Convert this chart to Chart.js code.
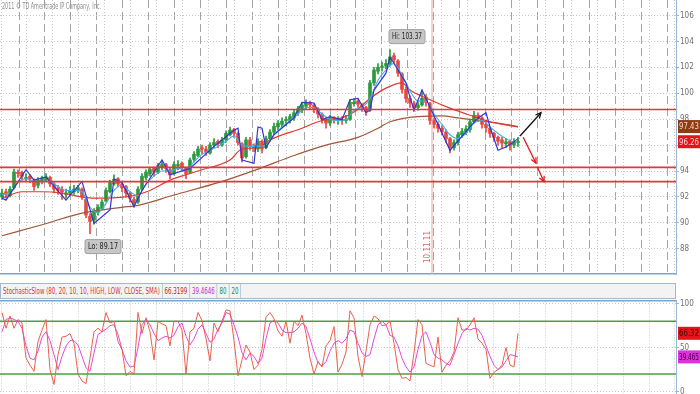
<!DOCTYPE html>
<html>
<head>
<meta charset="utf-8">
<title>Price with StochasticSlow</title>
<script src="https://cdn.jsdelivr.net/npm/chart.js@4.4.1/dist/chart.umd.min.js"></script>
<style>
  html, body { margin: 0; padding: 0; background: #fff; }
  #page { position: relative; width: 700px; height: 394px; overflow: hidden;
          font-family: "Liberation Sans Narrow", "DejaVu Sans Condensed", "Liberation Sans", sans-serif; }
  #priceBox { position: absolute; left: 0; top: 0; width: 700px; height: 277px; }
  #stochBox { position: absolute; left: 0; top: 299px; width: 700px; height: 95px; }
  #copyright { position: absolute; left: 2px; top: 2px; font-size: 8px; color: #8c8c8c; white-space: nowrap;
               transform: scaleX(0.68); transform-origin: left top; }
  #stochLegend { position: absolute; left: 0; top: 283px; width: 676px; height: 16px; box-sizing: border-box;
                 background: #f3f3f3; border: 1px solid #a3b8cc; overflow: hidden; }
  #legendRow { display: flex; font-size: 9px; line-height: 14px; white-space: nowrap;
               transform: scaleX(0.68); transform-origin: left top; }
  #legendRow span { padding: 0 3px; border-right: 1px solid #a3b8cc; }
</style>
</head>
<body>
<div id="page">
  <div id="priceBox"><canvas id="priceChart"></canvas></div>
  <div id="copyright">2011 © TD Ameritrade IP Company, Inc.</div>
  <div id="stochLegend"><div id="legendRow"></div></div>
  <div id="stochBox"><canvas id="stochChart"></canvas></div>
</div>
<script>
// daily bars, oldest first
var opens = [92.0,92.4,92.1,92.7,93.9,93.9,93.4,93.6,93.3,92.9, 93.2,93.3,93.5,93.0,92.7,92.6,92.2,92.3,92.4,92.5,
             92.6,91.8,90.5,90.2,90.8,91.1,91.7,92.4,93.0,93.4, 93.0,92.8,92.3,91.8,91.6,92.6,93.5,93.8,94.2,93.9,
             94.3,94.5,94.1,93.8,94.4,94.6,94.2,93.9,94.9,95.2, 95.8,95.7,95.4,96.0,96.3,96.0,96.4,96.8,97.2,96.9,
             96.1,95.1,96.4,95.9,95.7,96.3,95.8,96.5,97.0,97.4, 97.6,97.9,97.9,98.1,98.5,98.7,99.0,99.3,99.1,98.8,
             98.4,98.0,97.7,98.1,97.9,98.0,97.9,98.0,99.2,99.4, 99.1,98.9,98.7,100.8,101.7,102.0,102.1,102.3,102.9,102.5,
             101.5,100.3,99.6,99.2,98.9,99.1,99.7,99.2,97.9,97.6, 97.3,97.0,96.5,95.8,96.2,96.8,97.0,97.2,97.8,98.3,
             98.1,97.6,97.3,96.9,96.6,96.4,96.1,96.3,96.0,96.2];
var highs = [92.6,92.6,92.8,94.15,94.1,94.0,93.8,93.7,93.4,93.5, 93.6,93.8,93.6,93.1,92.9,92.8,92.6,92.8,92.9,92.9,
             92.7,91.9,90.7,91.1,91.4,91.8,92.7,93.3,93.7,93.5, 93.1,92.9,92.4,92.0,92.8,93.8,94.1,94.3,94.3,94.6,
             94.8,94.6,94.2,94.7,94.8,94.7,94.3,95.0,95.5,95.9, 96.0,95.9,96.2,96.5,96.4,96.6,97.1,97.4,97.3,97.0,
             96.2,96.6,96.6,96.1,96.5,96.4,96.7,97.2,97.7,97.9, 98.1,98.2,98.4,98.7,99.0,99.3,99.5,99.4,99.2,98.9,
             98.5,98.1,98.3,98.2,98.2,98.2,98.3,99.5,99.6,99.5, 99.2,99.0,101.0,102.0,102.3,102.4,102.6,103.37,103.1,102.6,
             101.6,100.5,99.8,99.4,99.4,100.25,99.9,99.3,98.1,97.8, 97.5,97.2,96.6,96.4,97.0,97.3,97.5,98.0,98.6,98.5,
             98.2,97.8,97.4,97.0,96.7,96.6,96.5,96.4,96.5,96.6];
var lows = [91.8,91.9,92.0,92.6,93.5,93.3,93.2,93.1,92.5,92.7, 93.0,93.2,92.8,92.3,92.2,91.8,91.9,92.1,92.2,92.3,
            91.8,90.4,89.17,89.9,90.6,91.0,91.6,92.3,92.9,92.8, 92.4,92.0,91.6,91.2,91.5,92.5,93.3,93.6,93.6,93.8,
            94.1,93.9,93.4,93.7,94.1,94.0,93.4,93.8,94.7,95.1, 95.3,95.2,95.3,95.8,95.8,95.9,96.2,96.7,96.6,96.0,
            94.7,95.0,95.6,95.5,95.5,95.4,95.7,96.3,96.8,97.2, 97.4,97.5,97.7,97.9,98.3,98.5,98.8,98.8,98.5,98.1,
            97.7,97.3,97.5,97.7,97.6,97.6,97.7,97.9,99.0,98.9, 98.6,98.3,98.6,100.6,101.5,101.7,101.9,102.1,102.3,101.3,
            100.0,99.3,98.9,98.6,98.7,99.0,99.0,97.6,97.3,97.0, 96.8,96.2,95.4,95.6,96.0,96.6,96.8,97.0,97.7,97.8,
            97.3,97.0,96.6,96.3,96.0,95.8,95.8,95.6,95.8,95.9];
var closes = [92.3,92.2,92.6,93.9,93.8,93.6,93.5,93.4,92.8,93.3, 93.45,93.55,93.0,92.6,92.5,92.4,92.3,92.5,92.6,92.7,
              92.0,90.6,90.1,90.9,91.2,91.6,92.5,93.1,93.35,93.0, 92.7,92.3,91.9,91.5,92.6,93.6,93.9,94.1,93.9,94.4,
              94.5,94.2,93.7,94.5,94.5,94.3,93.8,94.85,95.3,95.7, 95.7,95.5,96.0,96.2,96.1,96.4,96.9,97.15,96.9,96.2,
              95.0,96.4,95.9,95.8,96.3,95.7,96.5,97.0,97.45,97.7, 97.85,97.95,98.2,98.5,98.8,99.1,99.25,99.1,98.75,98.4,
              98.0,97.7,98.1,97.95,97.95,97.9,98.0,99.3,99.3,99.15, 98.9,98.6,100.8,101.8,102.0,102.1,102.3,102.8,102.6,101.55,
              100.3,99.6,99.25,98.9,99.1,99.6,99.3,97.9,97.6,97.3, 97.05,96.5,95.8,96.2,96.8,97.05,97.25,97.8,98.3,98.1,
              97.6,97.35,96.9,96.6,96.3,96.15,96.25,96.0,96.25,96.26];

// short EMA (light blue), one value every second bar
var cyanVals = [92.2,92.3,93.1,93.4,93.2,93.2,93.2,92.8,92.5,92.5, 92.4,91.2,90.8,91.5,92.5,92.9,92.4,92.1,93.0,93.6,
                94.0,94.0,94.2,94.1,94.7,95.3,95.6,95.9,96.3,96.7, 96.0,95.9,95.9,96.0,96.8,97.4,97.9,98.4,98.9,98.9,
                98.4,98.0,97.9,97.95,98.7,98.9,99.6,101.0,101.8,102.3, 101.4,100.2,99.4,99.4,98.4,97.6,96.8,96.5,96.9,97.7,
                97.9,97.4,96.9,96.5,96.2];
// trailing stop (dark blue)
var blueBars = [0,1,3,6,8,11,16,20,23,27,28,30,33,35,40,42,47,53,56,58,59,60,63,64,65,66,68,73,75,78,
                80,82,85,87,89,91,92,93,96,97,99,101,102,103,105,112,117,119,121,122,124,126,128,129];
var blueVals = [91.9,91.75,92.7,94.1,93.3,93.55,91.75,93.2,89.96,91.0,93.4,93.1,91.25,92.5,94.85,93.7,94.2,95.9,96.65,97.15,
                97.3,94.85,94.6,97.4,97.3,95.8,96.8,98.1,99.3,99.25, 97.95,98.2,97.95,99.5,99.6,98.5,98.7,100.25,101.55,102.8,
                101.8,100.8,99.7,98.7,100.25,95.6,97.4,98.1,98.5,97.4,95.6,95.85,96.25,96.5];
// 50 day average (red)
var redBars = [0,5,10,15,20,23,31,37,42,50,57,60,64,67,75,80,85,88,92,96,100,102,107,112,117,122,129];
var redVals = [91.9,92.4,92.4,92.3,92.0,91.9,92.0,92.5,93.3,94.1,94.85,95.7,95.8,96.4,97.3,97.9,98.1,98.55,99.6,100.4,
               100.8,100.25,99.5,98.85,98.3,97.8,97.4];
// 200 day average (brown)
var brownBars = [0,10,20,30,34,43,54,64,73,81,89,94,97,104,110,114,119,124,129];
var brownVals = [89.0,89.85,90.75,91.2,91.35,92.15,93.1,94.15,95.2,96.0,96.6,97.3,97.8,98.2,98.25,98.1,97.9,97.7,97.43];

var levels = [98.75, 94.28, 93.18];
var markerBar = 107.5;
var markerText = '10.11.11';
var arrowUpBars = [129.5, 134.75], arrowUpVals = [96.7, 98.5];
var arrowDnBars = [130.3, 133.5], arrowDnVals = [96.6, 94.6];
var arrowDn2Bars = [133.8, 135.5], arrowDn2Vals = [94.33, 93.17];

var priceTicks = [88, 90, 92, 94, 96, 98, 100, 102, 104, 106];

// StochasticSlow
var stochK = [90,72,86,72,82,78,38,30,23,57, 70,82,25,8,42,62,63,66,55,20, 12,9,38,68,72,68,90,78,80,57,
              48,18,23,20,90,66,84,68,36,80, 77,75,52,80,80,70,20,68,72,90, 81,60,35,78,68,80,93,92,58,18,
              36,53,45,25,30,48,85,90,83,69, 63,80,55,80,75,87,66,38,20,34, 28,52,58,74,22,31,45,92,84,40,
              17,46,76,86,83,75,76,80,55,25, 15,16,12,44,82,76,32,30,28,62, 22,30,35,45,84,70,70,76,84,60,
              55,48,15,22,25,30,50,30,28,66.3199];
var stochD = [68,82,84,82,80,72,52,38,36,46, 62,68,58,42,25,40,52,58,58,53, 40,27,23,44,65,68,71,75,76,65,
              48,35,28,29,50,76,82,76,66,58, 61,63,61,64,74,78,63,53,60,71, 76,66,56,60,71,78,90,88,76,62,
              44,36,44,40,32,38,60,78,81,78, 70,67,67,68,72,78,74,60,45,33, 29,34,46,55,58,55,60,70,68,55,
              44,40,42,60,76,80,76,64,62,52, 38,28,22,28,48,64,68,56,42,38, 36,32,30,42,55,66,72,70,72,71,
              64,52,40,30,25,28,35,42,41,39.4646];
var stochLevels = [80, 20];
var stochTicks = [0, 50, 100];
var stochName = 'StochasticSlow (80, 20, 10, 10, HIGH, LOW, CLOSE, SMA)';

var FONT = '"Liberation Sans Narrow", "DejaVu Sans Condensed", "Liberation Sans", sans-serif';
Chart.defaults.font.family = FONT;
Chart.defaults.font.size = 8;

var X_MIN = -0.5, X_MAX = 168.5;
var GRID_STEP = 6.48, DASH_FIRST = 4.25, DOT_FIRST = -0.25;
var P_MIN = 86.05, P_MAX = 107.2;
var S_MIN = -2.8, S_MAX = 103.1;

var upColor = '#2b9a3c', downColor = '#e34a42';
var candleColors = closes.map(function (c, i) { return c >= opens[i] ? upColor : downColor; });

function series(xs, ys) {
   return xs.map(function (x, i) { return {x: x, y: ys[i]}; });
}

function gridAt(first) {
   return function (scale) {
      var t = [];
      for (var v = first; v <= scale.max; v += GRID_STEP) {
         t.push({value: v});
      }
      scale.ticks = t;
   };
}

function fixedTicks(list) {
   return function (scale) {
      scale.ticks = list.map(function (v) { return {value: v}; });
   };
}

var flatAxis = function (scale) { scale.height = 0; };
var rightAxis = function (scale) { scale.width = 24; scale.paddingTop = 0; scale.paddingBottom = 0; };

function lineSet(data, color, width, extra) {
   var ds = {type: 'line', data: data, borderColor: color, borderWidth: width,
             pointRadius: 0, fill: false, tension: 0};
   for (var k in extra) { ds[k] = extra[k]; }
   return ds;
}

function labelBox(ctx, text, cx, cy) {
   ctx.save();
   ctx.font = '9px ' + FONT;
   var tw = Math.min(ctx.measureText(text).width, 30);
   var w = tw + 6, h = 14;
   ctx.fillStyle = '#c6c6c6';
   ctx.strokeStyle = '#a0a0a0';
   ctx.lineWidth = 1;
   ctx.beginPath();
   ctx.roundRect(cx - w / 2, cy - h / 2, w, h, 2);
   ctx.fill();
   ctx.stroke();
   ctx.fillStyle = '#222';
   ctx.textAlign = 'center';
   ctx.textBaseline = 'middle';
   ctx.fillText(text, cx, cy + 0.5, tw);
   ctx.restore();
}

function axisTag(chart, value, text, fill, color) {
   var ctx = chart.ctx;
   var y = chart.scales.y.getPixelForValue(value);
   var x0 = chart.chartArea.right + 2;
   ctx.save();
   ctx.fillStyle = fill;
   ctx.fillRect(x0, y - 6.5, chart.width - x0, 13);
   ctx.fillStyle = color;
   ctx.font = '9px ' + FONT;
   ctx.textBaseline = 'middle';
   ctx.textAlign = 'left';
   ctx.fillText(text, x0 + 1, y + 0.5, chart.width - x0 - 2);
   ctx.restore();
}

var priceDecor = {
   id: 'priceDecor',
   afterDatasetsDraw: function (chart) {
      var ctx = chart.ctx, xs = chart.scales.x, ys = chart.scales.y;
      chart.data.datasets.forEach(function (ds, i) {
         if (!ds.arrow) {
            return;
         }
         var pts = chart.getDatasetMeta(i).data;
         var a = pts[pts.length - 2], b = pts[pts.length - 1];
         var ang = Math.atan2(b.y - a.y, b.x - a.x);
         ctx.save();
         ctx.strokeStyle = ds.borderColor;
         ctx.lineWidth = 1.3;
         ctx.beginPath();
         ctx.moveTo(b.x - 6 * Math.cos(ang - 0.45), b.y - 6 * Math.sin(ang - 0.45));
         ctx.lineTo(b.x, b.y);
         ctx.lineTo(b.x - 6 * Math.cos(ang + 0.45), b.y - 6 * Math.sin(ang + 0.45));
         ctx.stroke();
         ctx.restore();
      });

      var hi = Math.max.apply(null, highs), lo = Math.min.apply(null, lows);
      var hiIdx = highs.indexOf(hi), loIdx = lows.indexOf(lo);
      labelBox(ctx, 'Hi: ' + hi.toFixed(2), xs.getPixelForValue(hiIdx) + 17, ys.getPixelForValue(hi) - 13);
      labelBox(ctx, 'Lo: ' + lo.toFixed(2), xs.getPixelForValue(loIdx) + 13, ys.getPixelForValue(lo) + 13);

      ctx.save();
      ctx.translate(xs.getPixelForValue(markerBar) - 4, chart.chartArea.bottom - 27);
      ctx.rotate(-Math.PI / 2);
      ctx.fillStyle = '#e06060';
      ctx.font = '8px ' + FONT;
      ctx.textAlign = 'center';
      ctx.textBaseline = 'middle';
      ctx.fillText(markerText, 0, 0, 36);
      ctx.restore();
   },
   afterDraw: function (chart) {
      axisTag(chart, brownVals[brownVals.length - 1], brownVals[brownVals.length - 1].toFixed(2), '#8e3c14', '#f3d6c4');
      axisTag(chart, closes[closes.length - 1], closes[closes.length - 1].toFixed(2), '#e5141b', '#ffd9d9');
   }
};

var stochDecor = {
   id: 'stochDecor',
   afterDraw: function (chart) {
      var k = stochK[stochK.length - 1], d = stochD[stochD.length - 1];
      axisTag(chart, k, k.toFixed(2), '#e3141a', '#4a0000');
      axisTag(chart, d, d.toFixed(3), '#e030e0', '#3a003a');
   }
};

var bars = closes.map(function (c, i) { return i; });
var cyanBars = cyanVals.map(function (v, i) { return i * 2; });

var priceData = {
   datasets: [
      lineSet(series(arrowUpBars, arrowUpVals), '#111111', 1.3, {arrow: true}),
      lineSet(series(arrowDnBars, arrowDnVals), '#e01818', 1.3, {arrow: true}),
      lineSet(series(arrowDn2Bars, arrowDn2Vals), '#e01818', 1.3, {arrow: true}),
      lineSet(series([X_MIN, X_MAX], [levels[0], levels[0]]), '#e0393c', 1.6),
      lineSet(series([X_MIN, X_MAX], [levels[1], levels[1]]), '#e0393c', 1.6),
      lineSet(series([X_MIN, X_MAX], [levels[2], levels[2]]), '#e0393c', 1.6),
      lineSet(series(blueBars, blueVals), '#3434d4', 1.2),
      lineSet(series(cyanBars, cyanVals), '#3fb2e6', 1.1, {cubicInterpolationMode: 'monotone'}),
      lineSet(series(redBars, redVals), '#e23a30', 1.2, {cubicInterpolationMode: 'monotone'}),
      lineSet(series(brownBars, brownVals), '#a2573a', 1.2, {cubicInterpolationMode: 'monotone'}),
      lineSet(series([markerBar, markerBar], [P_MIN, P_MAX]), '#f2a3a3', 1),
      {
         type: 'bar',
         data: bars.map(function (i) { return {x: i, y: [opens[i], closes[i]]}; }),
         backgroundColor: candleColors,
         barThickness: 3,
         minBarLength: 1,
         grouped: false,
         borderWidth: 0
      },
      {
         type: 'bar',
         data: bars.map(function (i) { return {x: i, y: [lows[i], highs[i]]}; }),
         backgroundColor: candleColors,
         barThickness: 1,
         grouped: false,
         borderWidth: 0
      }
   ]
};

new Chart(document.getElementById('priceChart'), {
   type: 'bar',
   data: priceData,
   plugins: [priceDecor],
   options: {
      responsive: true,
      maintainAspectRatio: false,
      animation: false,
      events: [],
      layout: {padding: {top: 0, bottom: 3, left: 0, right: 0}},
      plugins: {legend: {display: false}, tooltip: {enabled: false}},
      scales: {
         x: {
            type: 'linear', position: 'bottom', min: X_MIN, max: X_MAX, offset: false,
            afterBuildTicks: gridAt(DASH_FIRST), afterFit: flatAxis,
            ticks: {display: false},
            grid: {color: '#a3a3a3', lineWidth: 1, drawTicks: false, offset: false},
            border: {display: true, color: '#7da3c8', width: 1.5, dash: [8, 4]}
         },
         x2: {
            type: 'linear', position: 'bottom', min: X_MIN, max: X_MAX, offset: false,
            afterBuildTicks: gridAt(DOT_FIRST), afterFit: flatAxis,
            ticks: {display: false},
            grid: {color: '#c6c6c6', lineWidth: 1, drawTicks: false, offset: false},
            border: {display: false, dash: [1, 2]}
         },
         y: {
            type: 'linear', position: 'right', min: P_MIN, max: P_MAX,
            afterBuildTicks: fixedTicks(priceTicks), afterFit: rightAxis,
            ticks: {color: '#707070', padding: 1, font: {size: 8}},
            grid: {color: '#c6c6c6', tickColor: '#9bb7d4', tickLength: 3, tickBorderDash: []},
            border: {display: true, color: '#9bb7d4', width: 1, dash: [1, 2]}
         }
      }
   }
});

// legend strip of the lower study
var legendCells = [
   [stochName, '#d7333a'],
   [String(stochK[stochK.length - 1]), '#b02a2a'],
   [String(stochD[stochD.length - 1]), '#cc22cc'],
   [String(stochLevels[0]), '#2f8a2f'],
   [String(stochLevels[1]), '#2f8a2f']
];
var legendEl = document.getElementById('legendRow');
legendCells.forEach(function (cell) {
   var s = document.createElement('span');
   s.textContent = cell[0];
   s.style.color = cell[1];
   legendEl.appendChild(s);
});

new Chart(document.getElementById('stochChart'), {
   type: 'line',
   data: {
      datasets: [
         lineSet(series(bars, stochK), '#ea5f4c', 1),
         lineSet(series(bars, stochD), '#e04be0', 1),
         lineSet(series([X_MIN, X_MAX], [stochLevels[0], stochLevels[0]]), '#4c9d44', 1.5),
         lineSet(series([X_MIN, X_MAX], [stochLevels[1], stochLevels[1]]), '#4c9d44', 1.5)
      ]
   },
   plugins: [stochDecor],
   options: {
      responsive: true,
      maintainAspectRatio: false,
      animation: false,
      events: [],
      layout: {padding: {top: 2, bottom: 0, left: 0, right: 0}},
      plugins: {legend: {display: false}, tooltip: {enabled: false}},
      scales: {
         x: {
            type: 'linear', position: 'top', min: X_MIN, max: X_MAX,
            afterBuildTicks: gridAt(DOT_FIRST), afterFit: flatAxis,
            ticks: {display: false},
            grid: {color: '#c6c6c6', drawTicks: false},
            border: {display: true, color: '#7da3c8', width: 1.5, dash: [1, 2]}
         },
         y: {
            type: 'linear', position: 'right', min: S_MIN, max: S_MAX,
            afterBuildTicks: fixedTicks(stochTicks), afterFit: rightAxis,
            ticks: {color: '#707070', padding: 1, font: {size: 8}},
            grid: {color: '#c6c6c6', tickColor: '#9bb7d4', tickLength: 3, tickBorderDash: []},
            border: {display: true, color: '#9bb7d4', width: 1, dash: [1, 2]}
         }
      }
   }
});
</script>
</body>
</html>
